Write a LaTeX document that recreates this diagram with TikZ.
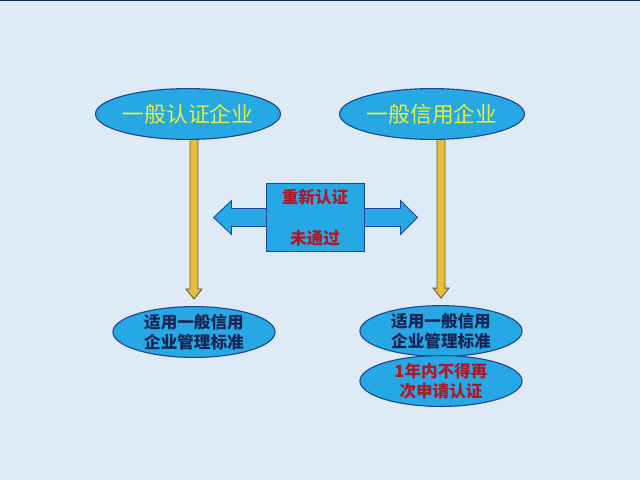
\documentclass[tikz,border=0pt]{standalone}
\usepackage{fontspec}
\newfontfamily\cjk{Noto Sans CJK SC}
\usetikzlibrary{positioning, shapes.geometric, calc, backgrounds}

\definecolor{pagebg}{RGB}{222,234,246}
\definecolor{skyfill}{RGB}{38,168,228}
\definecolor{skyedge}{RGB}{30,70,150}
\definecolor{headtext}{RGB}{226,240,60}
\definecolor{navytext}{RGB}{22,36,84}
\definecolor{redtext}{RGB}{176,24,40}
\definecolor{arrowgold}{RGB}{230,190,60}
\definecolor{arrowedge}{RGB}{100,86,60}

\begin{document}
\begin{tikzpicture}[x=0.025cm, y=-0.025cm]
	\tikzset{
		oval/.style={ellipse, draw=skyedge, fill=skyfill, line width=0.8pt, minimum width=4.05cm, minimum height=1.27cm, inner sep=0pt, align=center},
		headtxt/.style={text=headtext, font=\cjk\fontsize{15.5}{18}\selectfont},
		bodytxt/.style={font=\cjk\bfseries\fontsize{11.8}{14.2}\selectfont},
		goldarrow/.style={fill=arrowgold, draw=arrowedge, line width=0.6pt, line join=miter},
		bluearrow/.style={fill=skyfill, draw=skyedge, line width=0.6pt, line join=miter}
	}
	\useasboundingbox (0,0) rectangle (640,480);
	
	% 上面两个椭圆
	\node[oval, headtxt] (cert) at (188,114) {一般认证企业};
	\node[oval, headtxt] (credit) at (432,114) {一般信用企业};
	
	% 下面的椭圆
	\node[oval, bodytxt, text=navytext] (stdL) at (194,332) {适用一般信用\\企业管理标准};
	\node[oval, bodytxt, text=navytext, minimum height=1.22cm] (stdR) at (441,331) {适用一般信用\\企业管理标准};
	\node[oval, bodytxt, text=redtext, minimum height=1.2cm] (wait) at (441,381) {1年内不得再\\次申请认证};
	
	% 中间的方框
	\node[rectangle, draw=skyedge, fill=skyfill, line width=0.6pt, minimum width=2.45cm, minimum height=1.68cm, align=center,
		bodytxt, text=redtext] (redo) at (315,217.5) {重新认证\\[15pt]未通过};
	
	\begin{scope}[on background layer]
		\fill[pagebg] (0,0) rectangle (640,480);
		\draw[skyedge!60!black, line width=0.8pt] (0,0) -- (640,0);
		
		% 竖直箭头
		\coordinate (s1) at (cert.south -| stdL.north);
		\coordinate (e1) at ($(stdL.north)+(0,-7)$);
		\draw[goldarrow] ($(s1)+(-4,-3)$) -- ($(e1)+(-4,-10)$) -- ($(e1)+(-8,-10)$) -- (e1)
			-- ($(e1)+(8,-10)$) -- ($(e1)+(4,-10)$) -- ($(s1)+(4,-3)$) -- cycle;
		\coordinate (s2) at (credit.south -| stdR.north);
		\coordinate (e2) at ($(stdR.north)+(0,-7)$);
		\draw[goldarrow] ($(s2)+(-4,-3)$) -- ($(e2)+(-4,-10)$) -- ($(e2)+(-8,-10)$) -- (e2)
			-- ($(e2)+(8,-10)$) -- ($(e2)+(4,-10)$) -- ($(s2)+(4,-3)$) -- cycle;
		
		% 左右箭头
		\draw[bluearrow] ($(redo.west)+(1,-9)$) -- ($(redo.west)+(-34,-9)$) -- ($(redo.west)+(-34,-17)$)
			-- ($(redo.west)+(-52,0)$) -- ($(redo.west)+(-34,17)$) -- ($(redo.west)+(-34,9)$) -- ($(redo.west)+(1,9)$);
		\draw[bluearrow] ($(redo.east)+(-1,-9)$) -- ($(redo.east)+(36,-9)$) -- ($(redo.east)+(36,-17)$)
			-- ($(redo.east)+(53,0)$) -- ($(redo.east)+(36,17)$) -- ($(redo.east)+(36,9)$) -- ($(redo.east)+(-1,9)$);
	\end{scope}
\end{tikzpicture}
\end{document}
